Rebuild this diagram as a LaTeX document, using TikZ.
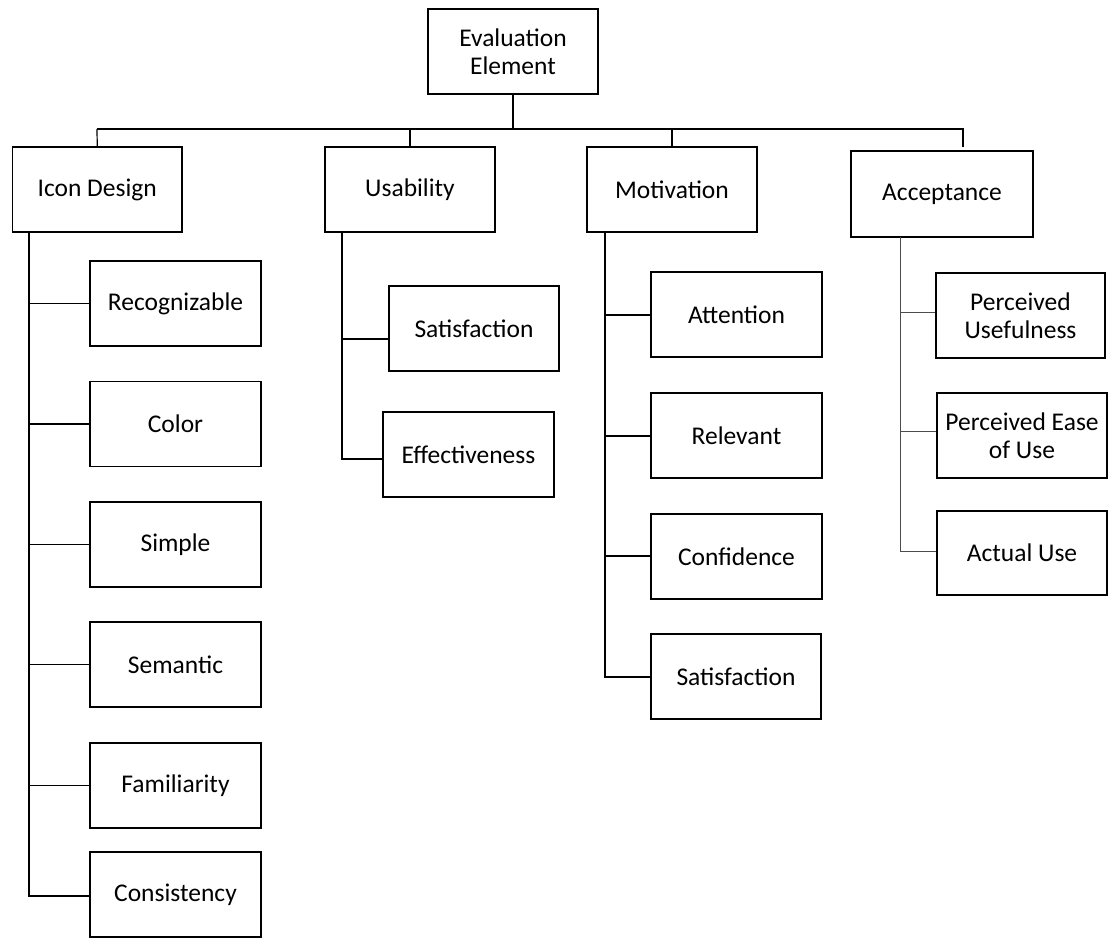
\documentclass[tikz,border=0pt]{standalone}
\usepackage{fontspec}
\setmainfont{Carlito}
\begin{document}
\begin{tikzpicture}[x=1pt,y=-1pt,
  box/.style={draw=black,line width=1.4pt,fill=white,align=center,inner sep=0pt,
    font=\fontsize{25.5}{28}\selectfont,minimum width=170pt,minimum height=85pt},
  conn/.style={draw=black,line width=1.2pt},
  thinconn/.style={draw=black!70,line width=0.8pt}]
\useasboundingbox (0,0) rectangle (1112,938);
\fill[white] (0,0) rectangle (1112,938);
% top
\node[box] (eval) at (513,51.5) {Evaluation\\Element};
\node[box,minimum width=169.5pt] (icon) at (97.25,189.5) {Icon Design};
\node[box] (usab) at (410,189.5) {Usability};
\node[box] (motiv) at (672,189.5) {Motivation};
\node[box,minimum width=182pt,minimum height=86pt] (accept) at (942,194) {Acceptance};
% icon design children
\node[box,minimum width=171pt] (recog) at (175.5,303.5) {Recognizable};
\node[box,minimum width=171pt] (color) at (175.5,424) {Color};
\node[box,minimum width=171pt] (simple) at (175.5,544.5) {Simple};
\node[box,minimum width=171pt] (semantic) at (175.5,664.5) {Semantic};
\node[box,minimum width=171pt] (famil) at (175.5,785.5) {Familiarity};
\node[box,minimum width=171pt] (consist) at (175.5,894.5) {Consistency};
% usability children
\node[box] (usat) at (474,328.5) {Satisfaction};
\node[box,minimum width=171pt] (effect) at (468.5,454.5) {Effectiveness};
% motivation children
\node[box,minimum width=171pt] (atten) at (736.5,314.5) {Attention};
\node[box,minimum width=171pt] (relev) at (736.5,435.5) {Relevant};
\node[box,minimum width=171pt] (confid) at (736.5,556.5) {Confidence};
\node[box] (msat) at (736,676.5) {Satisfaction};
% acceptance children
\node[box,minimum width=169pt] (pu) at (1020.5,315.5) {Perceived\\Usefulness};
\node[box] (peou) at (1022,435.5) {Perceived Ease\\of Use};
\node[box,minimum height=84pt] (au) at (1022,553) {Actual Use};
% bus
\coordinate (busL) at (97,129);
\coordinate (busR) at (963,129);
\coordinate (accdrop) at (963,147);
\draw[conn] (eval.south) -- (eval.south |- busL);
\draw[conn] (busL) -- (busR) -- (accdrop);
\draw[conn] (busL) -- (icon.north);
\draw[conn] (usab.north |- busL) -- (usab.north);
\draw[conn] (motiv.north |- busL) -- (motiv.north);
% icon design branch
\coordinate (iT) at (29,232);
\coordinate (iB) at (29,896);
\draw[conn,line width=1.5pt] (iT) -- (iB) -- (iB -| consist.west);
\draw[conn] (29,303.5) -- (recog.west);
\draw[conn] (29,424) -- (color.west);
\draw[conn] (29,544.5) -- (simple.west);
\draw[conn] (29,664.5) -- (semantic.west);
\draw[conn] (29,785.5) -- (famil.west);
% usability branch
\coordinate (uT) at (342,232);
\coordinate (uB) at (342,459);
\draw[conn] (uT) -- (uB) -- (uB -| effect.west);
\draw[conn] (342,339) -- (342,339 -| usat.west);
% motivation branch
\coordinate (mT) at (605,232);
\coordinate (mB) at (605,677);
\draw[conn] (mT) -- (mB) -- (mB -| msat.west);
\draw[conn] (605,315) -- (605,315 -| atten.west);
\draw[conn] (605,436) -- (605,436 -| relev.west);
\draw[conn] (605,556) -- (605,556 -| confid.west);
% acceptance branch
\coordinate (aT) at (900,237);
\coordinate (aB) at (900,551);
\draw[thinconn] (aT) -- (aB) -- (aB -| au.west);
\draw[thinconn] (900,312) -- (900,312 -| pu.west);
\draw[thinconn] (900,431) -- (900,431 -| peou.west);
\end{tikzpicture}
\end{document}
